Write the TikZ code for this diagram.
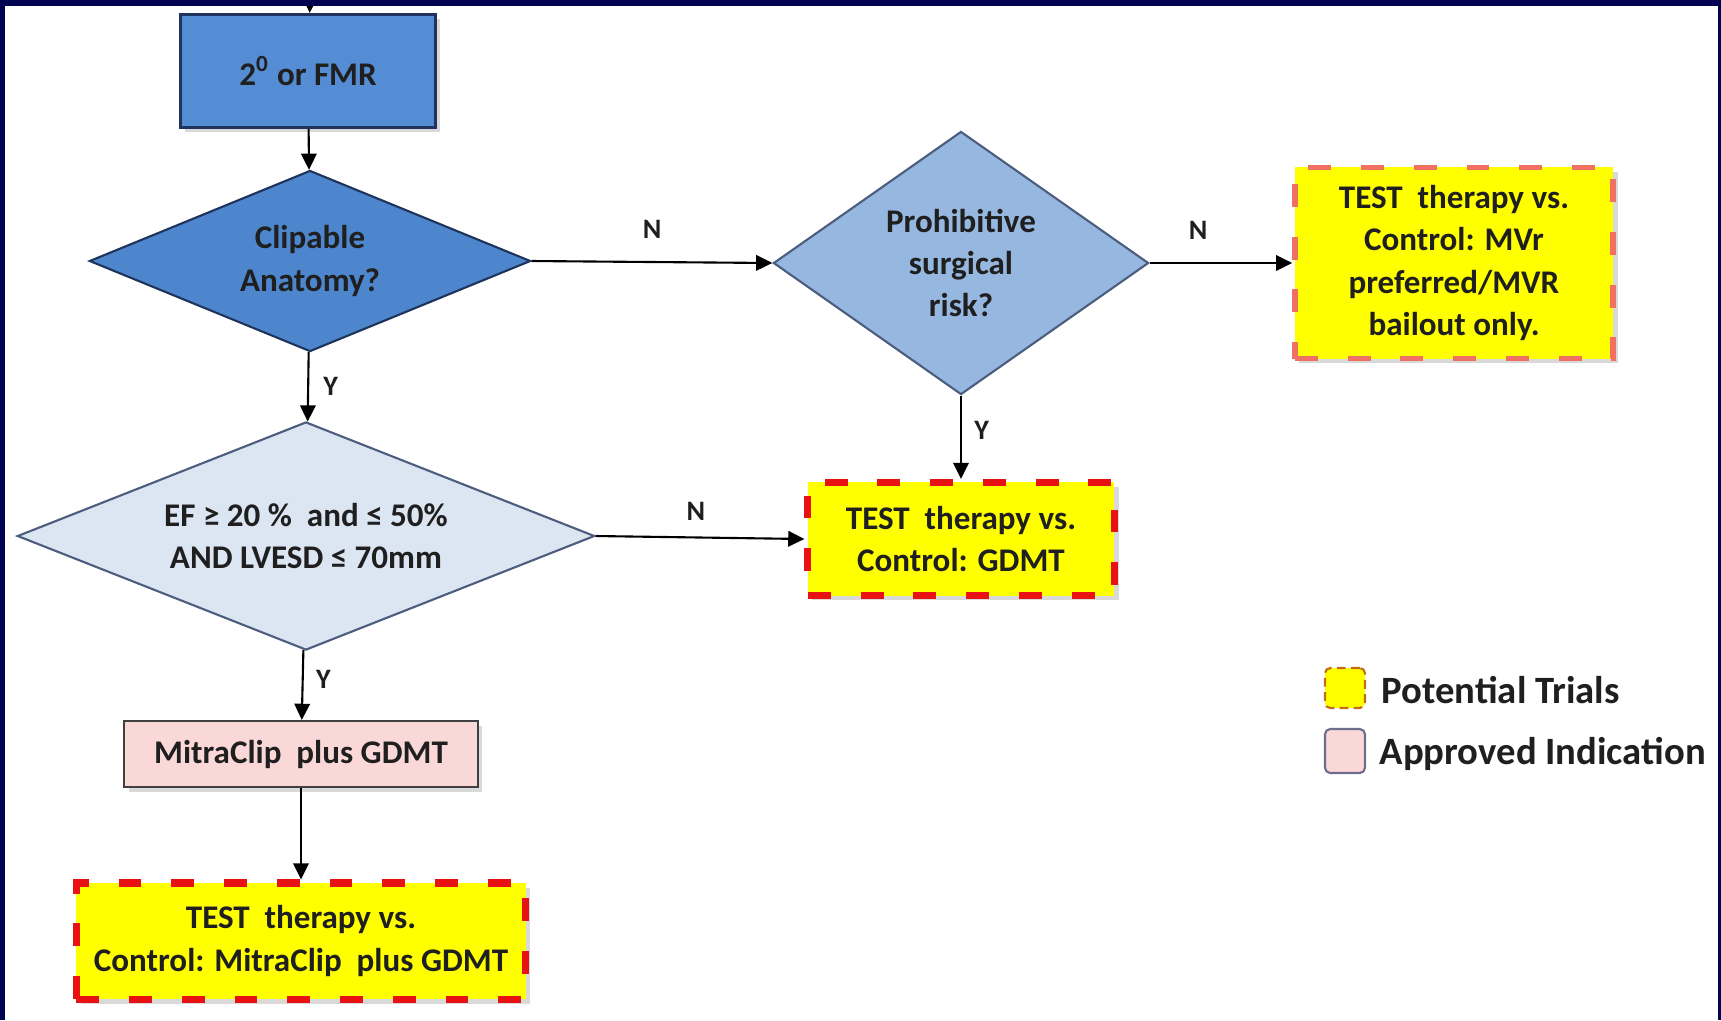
\documentclass[tikz,border=0pt]{standalone}
\usepackage{fontspec}
\setmainfont{Carlito}
\usetikzlibrary{shapes.geometric,arrows.meta,shadows}
\tikzset{
  txt/.style={
    font=\fontsize{9.4}{12}\selectfont\bfseries,
    align=center,
    text=black!88
  },
  box/.style={txt, rectangle, inner sep=0pt},
  soft-shadow/.style={drop shadow={shadow xshift=1.3pt, shadow yshift=-1.3pt, opacity=0.3}},
  box-fmr/.style={box, soft-shadow, fill=fmrblue, draw=edgenavy, line width=0.9pt},
  box-mitra/.style={box, soft-shadow, fill=mitrapink, draw=black!75, line width=0.6pt},
  box-trial/.style={box, soft-shadow, fill=trialyellow, draw=trialred, line width=2pt,
    dash pattern=on 6.5pt off 8.5pt},
  box-trial-light/.style={box-trial, draw=trialsalmon, line width=1.5pt},
  dia/.style={txt, diamond, inner sep=0pt, line width=0.6pt, draw=edgenavy},
  dia-clip/.style={dia, fill=clipblue, aspect=2.44},
  dia-risk/.style={dia, fill=riskblue, draw=edgenavy!80, aspect=1.43},
  dia-ef/.style={dia, fill=efblue, draw=edgenavy!80, aspect=2.53},
  conn/.style={draw=black, line width=0.6pt, -{Triangle[length=4.6pt, width=4.4pt]}},
  lbl/.style={font=\fontsize{8}{9}\selectfont\bfseries, text=black!88, inner sep=0pt},
  key-trial/.style={rectangle, rounded corners=1.5pt, fill=trialyellow, draw=keyorange,
    line width=0.6pt, dash pattern=on 2.5pt off 1.5pt, minimum width=0.4cm, minimum height=0.4cm},
  key-approved/.style={rectangle, rounded corners=1.5pt, fill=mitrapink, draw=keygray,
    line width=0.6pt, minimum width=0.4cm, minimum height=0.44cm},
  key-text/.style={font=\fontsize{11}{13}\selectfont\bfseries, text=black!88, inner sep=0pt, anchor=west}
}
\definecolor{navyframe}{RGB}{2,2,82}
\definecolor{fmrblue}{RGB}{84,141,212}
\definecolor{clipblue}{RGB}{77,134,204}
\definecolor{riskblue}{RGB}{149,183,224}
\definecolor{efblue}{RGB}{220,230,242}
\definecolor{edgenavy}{RGB}{31,52,92}
\definecolor{mitrapink}{RGB}{250,216,216}
\definecolor{trialyellow}{RGB}{255,255,0}
\definecolor{trialred}{RGB}{232,18,18}
\definecolor{trialsalmon}{RGB}{240,112,100}
\definecolor{keyorange}{RGB}{190,110,20}
\definecolor{keygray}{RGB}{110,110,140}

\begin{document}
\begin{tikzpicture}[x=0.01cm, y=-0.01cm]
  \useasboundingbox (0,0) rectangle (1721,1020);
  % decision chain on the left
  \coordinate (entry) at (310,0);
  \node[box-fmr, minimum width=2.55cm, minimum height=1.13cm] (fmr) at (308,71)
    {2\textsuperscript{0} or FMR};
  \node[dia-clip, minimum width=4.41cm, minimum height=1.81cm] (clip) at (310,261)
    {Clipable\\Anatomy?};
  \node[dia-ef, minimum width=5.77cm, minimum height=2.28cm] (ef) at (306,536)
    {EF ≥ 20 \%\ \ and ≤ 50\%\\AND LVESD ≤ 70mm};
  \node[box-mitra, minimum width=3.53cm, minimum height=0.66cm] (mitra) at (301,754)
    {MitraClip\ \ plus GDMT};
  \node[box-trial, minimum width=4.49cm, minimum height=1.16cm] (ctrl) at (301,941)
    {TEST\ \ therapy vs.\\Control: MitraClip\ \ plus GDMT};
  % surgical risk branch
  \node[dia-risk, minimum width=3.75cm, minimum height=2.63cm] (risk) at (961,263)
    {Prohibitive\\surgical\\risk?};
  \node[box-trial-light, minimum width=3.18cm, minimum height=1.91cm] (mvr) at (1454,263)
    {TEST\ \ therapy vs.\\Control: MVr\\preferred/MVR\\bailout only.};
  \node[box-trial, minimum width=3.06cm, minimum height=1.13cm] (gdmt) at (961,539)
    {TEST\ \ therapy vs.\\Control: GDMT};

  \draw[conn] (entry) -- (fmr);
  \draw[conn] (fmr) -- (clip);
  \draw[conn] (clip.east) -- node[lbl, above=6.5pt] (clipno) {N} (risk.west);
  \draw[conn] (clip) -- node[lbl, right=4pt, pos=0.5] (clipyes) {Y} (ef);
  \draw[conn] (risk.east) -- node[lbl, above=6.5pt, pos=0.34] (riskno) {N} (mvr.west);
  \draw[conn] (risk) -- node[lbl, right=3.5pt, pos=0.42] (riskyes) {Y} (gdmt);
  \draw[conn] (ef.east) -- node[lbl, above=4.5pt, pos=0.48] (efno) {N} (gdmt.west);
  \draw[conn] (ef) -- node[lbl, right=3.5pt, pos=0.42] (efyes) {Y} (mitra);
  \draw[conn] (mitra) -- (ctrl);

  % key
  \node[key-trial] (keytrial) at (1345,688) {};
  \node[key-approved] (keyapproved) at (1345,751) {};
  \node[key-text] (keytrialtxt) at (1381,690) {Potential Trials};
  \node[key-text] (keyapprovedtxt) at (1379,754) {Approved Indication};

  % navy frame
  \fill[navyframe] (0,0) rectangle (5,1020);
  \fill[navyframe] (0,0) rectangle (1721,6);
  \fill[navyframe] (1718,0) rectangle (1721,1020);
\end{tikzpicture}
\end{document}
